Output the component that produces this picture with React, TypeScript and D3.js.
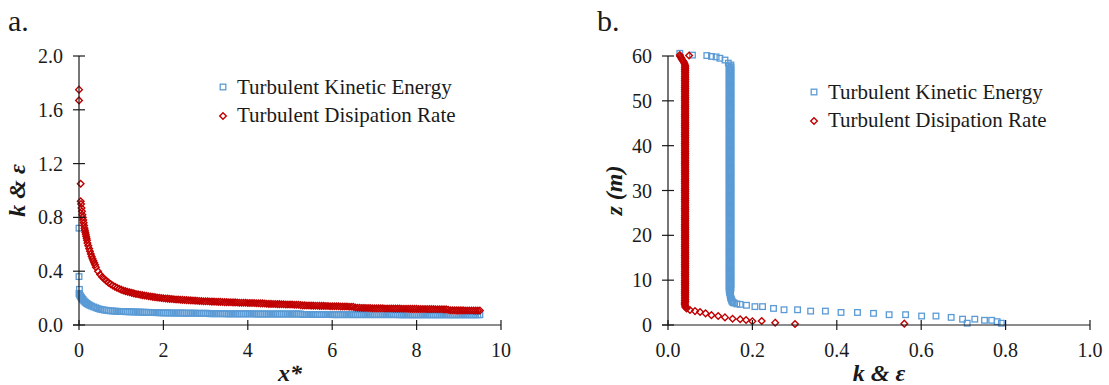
import React from "react";
import * as d3 from "d3";

// panel a, near the inlet: [x*, value]
const tkeNearInlet: [number, number][] = [
  [0, 0.72], [0, 0.36], [0.01, 0.265],
  [0, 0.235], [0.01, 0.228], [0.02, 0.222], [0.03, 0.216], [0.04, 0.211], [0.05, 0.206],
  [0.06, 0.201], [0.07, 0.197], [0.08, 0.193], [0.09, 0.189], [0.1, 0.185], [0.12, 0.178],
  [0.14, 0.172], [0.16, 0.166], [0.18, 0.161], [0.2, 0.157], [0.23, 0.151], [0.26, 0.146],
  [0.3, 0.14], [0.35, 0.134], [0.4, 0.128], [0.45, 0.122], [0.5, 0.117], [0.55, 0.114],
  [0.6, 0.111], [0.65, 0.109], [0.7, 0.107], [0.75, 0.105], [0.8, 0.104], [0.85, 0.103],
  [0.9, 0.102], [0.95, 0.101],
];
const epsNearInlet: [number, number][] = [
  [0, 1.75], [0, 1.67], [0.04, 1.05], [0.04, 0.92], [0.05, 0.9], [0.06, 0.87],
  [0.07, 0.845], [0.08, 0.82], [0.09, 0.8], [0.1, 0.78], [0.11, 0.76], [0.12, 0.74],
  [0.13, 0.72], [0.14, 0.705], [0.15, 0.69], [0.16, 0.675], [0.17, 0.66], [0.18, 0.645],
  [0.19, 0.63], [0.2, 0.61], [0.22, 0.59], [0.24, 0.568], [0.26, 0.548], [0.28, 0.528],
  [0.3, 0.51], [0.32, 0.493], [0.34, 0.477], [0.36, 0.462], [0.38, 0.448], [0.4, 0.43],
  [0.45, 0.4], [0.5, 0.375], [0.55, 0.357], [0.6, 0.342], [0.65, 0.328], [0.7, 0.315],
  [0.75, 0.304], [0.8, 0.294], [0.85, 0.285], [0.9, 0.277], [0.95, 0.27],
];

// panel a, downstream part read on a common x* grid
const xGridA = [
  1.0, 1.05, 1.1, 1.15, 1.2, 1.25, 1.3, 1.35, 1.4, 1.45, 1.5, 1.55, 1.6, 1.65, 1.7, 1.75, 1.8, 1.85, 1.9, 1.95,
  2.0, 2.05, 2.1, 2.15, 2.2, 2.25, 2.3, 2.35, 2.4, 2.45, 2.5, 2.55, 2.6, 2.65, 2.7, 2.75, 2.8, 2.85, 2.9, 2.95,
  3.0, 3.05, 3.1, 3.15, 3.2, 3.25, 3.3, 3.35, 3.4, 3.45, 3.5, 3.55, 3.6, 3.65, 3.7, 3.75, 3.8, 3.85, 3.9, 3.95,
  4.0, 4.05, 4.1, 4.15, 4.2, 4.25, 4.3, 4.35, 4.4, 4.45, 4.5, 4.55, 4.6, 4.65, 4.7, 4.75, 4.8, 4.85, 4.9, 4.95,
  5.0, 5.05, 5.1, 5.15, 5.2, 5.25, 5.3, 5.35, 5.4, 5.45, 5.5, 5.55, 5.6, 5.65, 5.7, 5.75, 5.8, 5.85, 5.9, 5.95,
  6.0, 6.05, 6.1, 6.15, 6.2, 6.25, 6.3, 6.35, 6.4, 6.45, 6.5, 6.55, 6.6, 6.65, 6.7, 6.75, 6.8, 6.85, 6.9, 6.95,
  7.0, 7.05, 7.1, 7.15, 7.2, 7.25, 7.3, 7.35, 7.4, 7.45, 7.5, 7.55, 7.6, 7.65, 7.7, 7.75, 7.8, 7.85, 7.9, 7.95,
  8.0, 8.05, 8.1, 8.15, 8.2, 8.25, 8.3, 8.35, 8.4, 8.45, 8.5, 8.55, 8.6, 8.65, 8.7, 8.75, 8.8, 8.85, 8.9, 8.95,
  9.0, 9.05, 9.1, 9.15, 9.2, 9.25, 9.3, 9.35, 9.4, 9.45, 9.5,
];
const tkeGridA = [
  0.1, 0.1, 0.099, 0.099, 0.098, 0.098, 0.097, 0.097, 0.096, 0.096, 0.095, 0.095, 0.094, 0.094, 0.093, 0.093, 0.092, 0.092, 0.091, 0.091,
  0.09, 0.09, 0.09, 0.09, 0.089, 0.089, 0.089, 0.089, 0.089, 0.089, 0.088, 0.088, 0.088, 0.088, 0.088, 0.088, 0.087, 0.087, 0.087, 0.087,
  0.087, 0.087, 0.084, 0.084, 0.084, 0.084, 0.084, 0.084, 0.084, 0.084, 0.083, 0.083, 0.083, 0.083, 0.083, 0.083, 0.083, 0.083, 0.083, 0.083,
  0.083, 0.083, 0.083, 0.083, 0.082, 0.082, 0.082, 0.082, 0.082, 0.082, 0.082, 0.082, 0.082, 0.082, 0.082, 0.082, 0.082, 0.082, 0.082, 0.082,
  0.082, 0.082, 0.082, 0.082, 0.082, 0.082, 0.078, 0.078, 0.078, 0.078, 0.078, 0.078, 0.078, 0.078, 0.078, 0.078, 0.078, 0.078, 0.078, 0.078,
  0.077, 0.077, 0.077, 0.077, 0.077, 0.077, 0.077, 0.077, 0.077, 0.077, 0.077, 0.077, 0.077, 0.077, 0.077, 0.077, 0.077, 0.077, 0.077, 0.077,
  0.077, 0.077, 0.077, 0.077, 0.077, 0.077, 0.077, 0.077, 0.077, 0.077, 0.077, 0.077, 0.076, 0.076, 0.076, 0.076, 0.076, 0.076, 0.076, 0.076,
  0.076, 0.076, 0.076, 0.076, 0.076, 0.076, 0.076, 0.076, 0.076, 0.076, 0.076, 0.076, 0.076, 0.076, 0.076, 0.076, 0.076, 0.076, 0.076, 0.076,
  0.076, 0.076, 0.076, 0.076, 0.076, 0.076, 0.076, 0.076, 0.076, 0.076, 0.076,
];
const epsGridA = [
  0.263, 0.257, 0.252, 0.247, 0.243, 0.239, 0.235, 0.231, 0.228, 0.225, 0.222, 0.219, 0.217, 0.214, 0.212, 0.209, 0.207, 0.205, 0.203, 0.201,
  0.199, 0.197, 0.196, 0.194, 0.193, 0.191, 0.19, 0.189, 0.188, 0.187, 0.186, 0.185, 0.184, 0.183, 0.182, 0.181, 0.18, 0.179, 0.178, 0.177,
  0.176, 0.176, 0.175, 0.174, 0.174, 0.173, 0.172, 0.172, 0.171, 0.17, 0.17, 0.169, 0.169, 0.168, 0.168, 0.167, 0.166, 0.166, 0.165, 0.165,
  0.164, 0.164, 0.163, 0.163, 0.162, 0.162, 0.161, 0.161, 0.16, 0.158, 0.157, 0.157, 0.156, 0.156, 0.155, 0.155, 0.154, 0.154, 0.153, 0.153,
  0.152, 0.152, 0.151, 0.151, 0.15, 0.148, 0.146, 0.146, 0.145, 0.145, 0.144, 0.144, 0.143, 0.143, 0.142, 0.142, 0.142, 0.141, 0.141, 0.14,
  0.14, 0.14, 0.139, 0.139, 0.138, 0.138, 0.137, 0.137, 0.136, 0.136, 0.135, 0.13, 0.128, 0.128, 0.127, 0.127, 0.126, 0.126, 0.126, 0.125,
  0.125, 0.125, 0.124, 0.124, 0.124, 0.123, 0.123, 0.123, 0.123, 0.122, 0.122, 0.122, 0.122, 0.121, 0.121, 0.121, 0.121, 0.12, 0.12, 0.12,
  0.12, 0.119, 0.119, 0.119, 0.119, 0.118, 0.118, 0.118, 0.118, 0.117, 0.117, 0.117, 0.117, 0.116, 0.116, 0.113, 0.11, 0.11, 0.11, 0.109,
  0.109, 0.109, 0.109, 0.108, 0.108, 0.108, 0.108, 0.107, 0.107, 0.107, 0.107,
];

// panel b, vertical band read on a common z grid (m)
const zGridB = [
  58, 57.75, 57.5, 57.25, 57, 56.75, 56.5, 56.25, 56, 55.75, 55.5, 55.25, 55, 54.75, 54.5, 54.25,
  54, 53.75, 53.5, 53.25, 53, 52.75, 52.5, 52.25, 52, 51.75, 51.5, 51.25, 51, 50.75, 50.5, 50.25,
  50, 49.75, 49.5, 49.25, 49, 48.75, 48.5, 48.25, 48, 47.75, 47.5, 47.25, 47, 46.75, 46.5, 46.25,
  46, 45.75, 45.5, 45.25, 45, 44.75, 44.5, 44.25, 44, 43.75, 43.5, 43.25, 43, 42.75, 42.5, 42.25,
  42, 41.75, 41.5, 41.25, 41, 40.75, 40.5, 40.25, 40, 39.75, 39.5, 39.25, 39, 38.75, 38.5, 38.25,
  38, 37.75, 37.5, 37.25, 37, 36.75, 36.5, 36.25, 36, 35.75, 35.5, 35.25, 35, 34.75, 34.5, 34.25,
  34, 33.75, 33.5, 33.25, 33, 32.75, 32.5, 32.25, 32, 31.75, 31.5, 31.25, 31, 30.75, 30.5, 30.25,
  30, 29.75, 29.5, 29.25, 29, 28.75, 28.5, 28.25, 28, 27.75, 27.5, 27.25, 27, 26.75, 26.5, 26.25,
  26, 25.75, 25.5, 25.25, 25, 24.75, 24.5, 24.25, 24, 23.75, 23.5, 23.25, 23, 22.75, 22.5, 22.25,
  22, 21.75, 21.5, 21.25, 21, 20.75, 20.5, 20.25, 20, 19.75, 19.5, 19.25, 19, 18.75, 18.5, 18.25,
  18, 17.75, 17.5, 17.25, 17, 16.75, 16.5, 16.25, 16, 15.75, 15.5, 15.25, 15, 14.75, 14.5, 14.25,
  14, 13.75, 13.5, 13.25, 13, 12.75, 12.5, 12.25, 12, 11.75, 11.5, 11.25, 11, 10.75, 10.5, 10.25,
  10, 9.75, 9.5, 9.25, 9, 8.75, 8.5, 8.25, 8, 7.75, 7.5, 7.25, 7, 6.75, 6.5, 6.25,
  6, 5.75, 5.5, 5.25, 5,
];
const tkeGridB = [
  0.149, 0.145, 0.149, 0.145, 0.149, 0.145, 0.149, 0.145, 0.149, 0.145, 0.149, 0.145, 0.149, 0.145, 0.149, 0.145,
  0.149, 0.145, 0.149, 0.145, 0.149, 0.145, 0.149, 0.145, 0.149, 0.145, 0.149, 0.145, 0.149, 0.145, 0.149, 0.145,
  0.149, 0.145, 0.149, 0.145, 0.149, 0.145, 0.149, 0.145, 0.149, 0.145, 0.149, 0.145, 0.149, 0.145, 0.149, 0.145,
  0.149, 0.145, 0.149, 0.145, 0.149, 0.145, 0.149, 0.145, 0.149, 0.145, 0.149, 0.145, 0.149, 0.145, 0.149, 0.145,
  0.149, 0.145, 0.149, 0.145, 0.149, 0.145, 0.149, 0.145, 0.149, 0.145, 0.149, 0.145, 0.149, 0.145, 0.149, 0.145,
  0.149, 0.145, 0.149, 0.145, 0.149, 0.145, 0.149, 0.145, 0.149, 0.145, 0.149, 0.145, 0.149, 0.145, 0.149, 0.145,
  0.149, 0.145, 0.149, 0.145, 0.149, 0.145, 0.149, 0.145, 0.149, 0.145, 0.149, 0.145, 0.149, 0.145, 0.149, 0.145,
  0.149, 0.145, 0.149, 0.145, 0.149, 0.145, 0.149, 0.145, 0.149, 0.145, 0.149, 0.145, 0.149, 0.145, 0.149, 0.145,
  0.149, 0.145, 0.149, 0.145, 0.149, 0.145, 0.149, 0.145, 0.149, 0.145, 0.149, 0.145, 0.149, 0.145, 0.149, 0.145,
  0.149, 0.145, 0.149, 0.145, 0.149, 0.145, 0.149, 0.145, 0.149, 0.145, 0.149, 0.145, 0.149, 0.145, 0.149, 0.145,
  0.149, 0.145, 0.149, 0.145, 0.149, 0.145, 0.149, 0.145, 0.149, 0.145, 0.149, 0.145, 0.149, 0.145, 0.149, 0.145,
  0.149, 0.145, 0.149, 0.145, 0.149, 0.145, 0.149, 0.145, 0.149, 0.145, 0.149, 0.145, 0.149, 0.145, 0.149, 0.145,
  0.149, 0.145, 0.149, 0.145, 0.149, 0.145, 0.149, 0.145, 0.149, 0.145, 0.148, 0.146, 0.148, 0.147, 0.148, 0.148,
  0.149, 0.15, 0.151, 0.152, 0.154,
];
const epsGridB = [
  0.04, 0.041, 0.04, 0.041, 0.04, 0.041, 0.04, 0.041, 0.04, 0.041, 0.04, 0.041, 0.04, 0.041, 0.04, 0.041,
  0.04, 0.041, 0.04, 0.041, 0.04, 0.041, 0.04, 0.041, 0.04, 0.041, 0.04, 0.041, 0.04, 0.041, 0.04, 0.041,
  0.04, 0.041, 0.04, 0.041, 0.04, 0.041, 0.04, 0.041, 0.04, 0.041, 0.04, 0.041, 0.04, 0.041, 0.04, 0.041,
  0.04, 0.041, 0.04, 0.041, 0.04, 0.041, 0.04, 0.041, 0.04, 0.041, 0.04, 0.041, 0.04, 0.041, 0.04, 0.041,
  0.04, 0.041, 0.04, 0.041, 0.04, 0.041, 0.04, 0.041, 0.04, 0.041, 0.04, 0.041, 0.04, 0.041, 0.04, 0.041,
  0.04, 0.041, 0.04, 0.041, 0.04, 0.041, 0.04, 0.041, 0.04, 0.041, 0.04, 0.041, 0.04, 0.041, 0.04, 0.041,
  0.04, 0.041, 0.04, 0.041, 0.04, 0.041, 0.04, 0.041, 0.04, 0.041, 0.04, 0.041, 0.04, 0.041, 0.04, 0.041,
  0.04, 0.041, 0.04, 0.041, 0.04, 0.041, 0.04, 0.041, 0.04, 0.041, 0.04, 0.041, 0.04, 0.041, 0.04, 0.041,
  0.04, 0.041, 0.04, 0.041, 0.04, 0.041, 0.04, 0.041, 0.04, 0.041, 0.04, 0.041, 0.04, 0.041, 0.04, 0.041,
  0.04, 0.041, 0.04, 0.041, 0.04, 0.041, 0.04, 0.041, 0.04, 0.041, 0.04, 0.041, 0.04, 0.041, 0.04, 0.041,
  0.04, 0.041, 0.04, 0.041, 0.04, 0.041, 0.04, 0.041, 0.04, 0.041, 0.04, 0.041, 0.04, 0.041, 0.04, 0.041,
  0.04, 0.041, 0.04, 0.041, 0.04, 0.041, 0.04, 0.041, 0.04, 0.041, 0.04, 0.041, 0.04, 0.041, 0.04, 0.041,
  0.04, 0.041, 0.04, 0.041, 0.04, 0.041, 0.04, 0.041, 0.04, 0.041, 0.04, 0.041, 0.04, 0.041, 0.04, 0.041,
  0.04, 0.041, 0.04, 0.041, 0.04,
];

// panel b, ends of the profiles: [value, z]
const tkeProfileEnds: [number, number][] = [
  [0.028, 60.6], [0.058, 60.2], [0.092, 60.1], [0.103, 59.9], [0.114, 59.8], [0.123, 59.5],
  [0.135, 59.1], [0.143, 58.4],
  [0.157, 4.9], [0.163, 4.7], [0.171, 4.6], [0.186, 4.4], [0.206, 4.1],
  [0.224, 4.1], [0.25, 3.7], [0.275, 3.4], [0.307, 3.4], [0.338, 3.1], [0.373, 3.1],
  [0.41, 2.8], [0.449, 2.8], [0.487, 2.6], [0.524, 2.3], [0.563, 2.3], [0.601, 2.0],
  [0.635, 2.0], [0.671, 1.7], [0.698, 1.3], [0.709, 0.4], [0.727, 1.3], [0.75, 1.05],
  [0.767, 1.05], [0.78, 0.75], [0.79, 0.4],
];
const epsProfileEnds: [number, number][] = [
  [0.028, 60.2], [0.05, 60.1], [0.029, 59.9], [0.031, 59.6], [0.033, 59.3], [0.035, 59.0],
  [0.037, 58.7], [0.039, 58.4],
  [0.04, 4.75], [0.04, 4.5], [0.041, 4.25], [0.041, 4.0], [0.044, 3.7], [0.052, 3.35],
  [0.064, 3.1], [0.076, 2.9], [0.089, 2.6], [0.103, 2.2], [0.119, 2.0], [0.135, 1.7],
  [0.153, 1.4], [0.171, 1.27], [0.185, 1.1], [0.2, 0.82], [0.222, 0.9], [0.254, 0.52],
  [0.301, 0.22], [0.56, 0.3],
];

const seriesNames = ["Turbulent Kinetic Energy", "Turbulent Disipation Rate"];
const xTicksA = [0, 2, 4, 6, 8, 10];
const yTicksA = [0, 0.4, 0.8, 1.2, 1.6, 2.0];
const xTicksB = [0, 0.2, 0.4, 0.6, 0.8, 1.0];
const yTicksB = [0, 10, 20, 30, 40, 50, 60];

const BLUE = "#5B9BD5";
const RED = "#C00000";
const INK = "#1a1a1a";
const FONT = '"Liberation Serif", "Times New Roman", Tinos, serif';

// x* points and (k, z) points joined for drawing
const tkeA: [number, number][] = tkeNearInlet.concat(xGridA.map((x, i) => [x, tkeGridA[i]] as [number, number]));
const epsA: [number, number][] = epsNearInlet.concat(xGridA.map((x, i) => [x, epsGridA[i]] as [number, number]));
const tkeB: [number, number][] = zGridB.map((z, i) => [tkeGridB[i], z] as [number, number]).concat(tkeProfileEnds);
const epsB: [number, number][] = zGridB.map((z, i) => [epsGridB[i], z] as [number, number]).concat(epsProfileEnds);

const Square = ({ x, y }: { x: number; y: number }) => (
  <rect x={x - 2.8} y={y - 2.8} width={5.6} height={5.6} fill="none" stroke={BLUE} strokeWidth={1.3} />
);
const Diamond = ({ x, y }: { x: number; y: number }) => (
  <path d={`M${x},${y - 3.3}L${x + 3.3},${y}L${x},${y + 3.3}L${x - 3.3},${y}Z`} fill="none" stroke={RED} strokeWidth={1.4} />
);

type PanelProps = {
  letter: string;
  letterX: number;
  x: d3.ScaleLinear<number, number>;
  y: d3.ScaleLinear<number, number>;
  xTicks: number[];
  yTicks: number[];
  xFmt: (v: number) => string;
  yFmt: (v: number) => string;
  xTitle: string;
  yTitle: string;
  yTitleX: number;
  tke: [number, number][];
  eps: [number, number][];
  legendX: number;
  legendY: number;
};

function Panel(p: PanelProps) {
  const [x0, x1] = p.x.range();
  const [y0, y1] = p.y.range();
  const midX = (x0 + x1) / 2;
  const midY = (y0 + y1) / 2;
  return (
    <g style={{ fontFamily: FONT }} fill={INK}>
      <text x={p.letterX} y={31} fontSize={30}>{p.letter}</text>
      {/* data */}
      {p.tke.map((d, i) => <Square key={"k" + i} x={p.x(d[0])} y={p.y(d[1])} />)}
      {p.eps.map((d, i) => <Diamond key={"e" + i} x={p.x(d[0])} y={p.y(d[1])} />)}
      {/* axes */}
      <line x1={x0 - 6} x2={x1} y1={y0} y2={y0} stroke={INK} strokeWidth={1.2} />
      <line x1={x0} x2={x0} y1={y0} y2={y1} stroke={INK} strokeWidth={1.2} />
      {p.yTicks.map((t) => (
        <g key={"yt" + t}>
          <line x1={x0 - 6} x2={x0 + 6} y1={p.y(t)} y2={p.y(t)} stroke={INK} strokeWidth={1.2} />
          <text x={x0 - 16} y={p.y(t) + 7} fontSize={20} textAnchor="end">{p.yFmt(t)}</text>
        </g>
      ))}
      {p.xTicks.map((t) => (
        <g key={"xt" + t}>
          <line x1={p.x(t)} x2={p.x(t)} y1={y0 - 5} y2={y0 + 5} stroke={INK} strokeWidth={1.2} />
          <text x={p.x(t)} y={357} fontSize={20} textAnchor="middle">{p.xFmt(t)}</text>
        </g>
      ))}
      <text x={midX} y={381} fontSize={24} fontWeight="bold" fontStyle="italic" textAnchor="middle">{p.xTitle}</text>
      <text transform={`translate(${p.yTitleX},${midY}) rotate(-90)`} fontSize={24} fontWeight="bold" fontStyle="italic" textAnchor="middle">{p.yTitle}</text>
      {/* legend */}
      <Square x={p.legendX} y={p.legendY - 7} />
      <text x={p.legendX + 14} y={p.legendY} fontSize={21}>{seriesNames[0]}</text>
      <Diamond x={p.legendX} y={p.legendY + 28 - 6} />
      <text x={p.legendX + 14} y={p.legendY + 28} fontSize={21}>{seriesNames[1]}</text>
    </g>
  );
}

export default function App() {
  const xA = d3.scaleLinear().domain([0, 10]).range([79, 501]);
  const yA = d3.scaleLinear().domain([0, 2]).range([325, 56]);
  const xB = d3.scaleLinear().domain([0, 1]).range([668, 1090]);
  const yB = d3.scaleLinear().domain([0, 60]).range([325, 56]);
  return (
    <svg width={1109} height={385} style={{ position: "absolute", left: 0, top: 0, background: "#fff" }}>
      <rect width={1109} height={385} fill="#fff" />
      <Panel
        letter="a." letterX={8} x={xA} y={yA}
        xTicks={xTicksA} yTicks={yTicksA}
        xFmt={d3.format("d")} yFmt={d3.format(".1f")}
        xTitle="x*" yTitle="k & ε" yTitleX={25}
        tke={tkeA} eps={epsA}
        legendX={223} legendY={94}
      />
      <Panel
        letter="b." letterX={597} x={xB} y={yB}
        xTicks={xTicksB} yTicks={yTicksB}
        xFmt={d3.format(".1f")} yFmt={d3.format("d")}
        xTitle="k & ε" yTitle="z (m)" yTitleX={622}
        tke={tkeB} eps={epsB}
        legendX={814} legendY={99}
      />
    </svg>
  );
}
